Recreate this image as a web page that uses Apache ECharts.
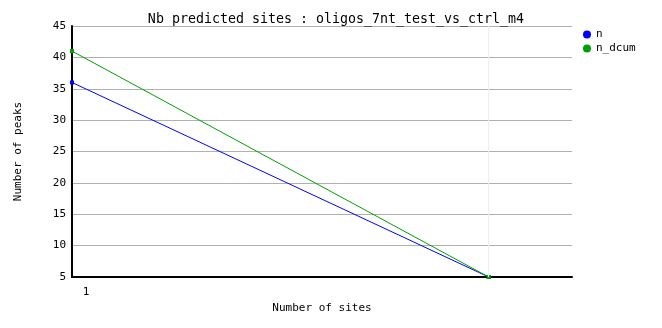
<!DOCTYPE html>
<html><head><meta charset="utf-8">
<script src="https://cdn.jsdelivr.net/npm/echarts@6/dist/echarts.min.js"></script>
<style>html,body{margin:0;padding:0;background:#fff}#c{width:662px;height:328px}</style>
</head><body><div id="c"></div>
<script>
const sites = [1, 2];
const nValues = [36, 5];
const nDcumValues = [41, 5];
const xTickLabels = ['1'];
const yTicks = [5, 10, 15, 20, 25, 30, 35, 40, 45];

const font = '"DejaVu Sans Mono", "Liberation Mono", monospace';
const chart = echarts.init(document.getElementById('c'), null, {renderer: 'canvas'});
chart.setOption({
  animation: false,
  backgroundColor: '#fff',
  textStyle: {fontFamily: font},
  title: {text: 'Nb predicted sites : oligos_7nt_test_vs_ctrl_m4', left: 331, textAlign: 'center', top: 8,
    textStyle: {fontFamily: font, fontSize: 13.3, fontWeight: 'normal', color: '#000'}},
  legend: {orient: 'vertical', left: 578, top: 24, itemGap: 3, itemWidth: 8, itemHeight: 8,
    textStyle: {fontFamily: font, fontSize: 11, color: '#000'},
    data: [{name: 'n', icon: 'circle'}, {name: 'n_dcum', icon: 'circle'}]},
  grid: {left: 72, right: 90, top: 26, bottom: 51, containLabel: false},
  xAxis: {type: 'value', min: 1, max: 2.2, interval: 1,
    name: 'Number of sites', nameLocation: 'middle', nameGap: 26,
    nameTextStyle: {fontFamily: font, fontSize: 11, color: '#000'},
    axisLine: {lineStyle: {color: '#000', width: 2}}, axisTick: {show: false},
    axisLabel: {fontFamily: font, fontSize: 11, color: '#000', margin: 10, padding: [0, 0, 0, 28],
      formatter: v => Math.abs(v - sites[0]) < 1e-9 ? xTickLabels[0] : ''},
    splitLine: {show: false}},
  yAxis: {type: 'value', min: 5, max: 45, interval: 5,
    name: 'Number of peaks', nameLocation: 'middle', nameGap: 48, nameRotate: 90,
    nameTextStyle: {fontFamily: font, fontSize: 11, color: '#000'},
    axisLine: {show: true, lineStyle: {color: '#000', width: 2}}, axisTick: {show: false},
    axisLabel: {fontFamily: font, fontSize: 11, color: '#000', margin: 6,
      formatter: v => yTicks.includes(v) ? String(v) : ''},
    splitLine: {lineStyle: {color: '#b0b0b0', width: 1}}},
  series: [
    {name: 'n', type: 'line', data: sites.map((s, i) => [s, nValues[i]]), color: '#0000ff',
      symbol: 'rect', symbolSize: 4, lineStyle: {width: 1}, z: 3,
      markLine: {silent: true, symbol: 'none', label: {show: false},
        lineStyle: {color: '#eeeeee', type: 'solid', width: 1}, data: [{xAxis: 2}]}},
    {name: 'n_dcum', type: 'line', data: sites.map((s, i) => [s, nDcumValues[i]]), color: '#00a000',
      symbol: 'rect', symbolSize: 4, lineStyle: {width: 1}, z: 4}
  ]
});
</script></body></html>
